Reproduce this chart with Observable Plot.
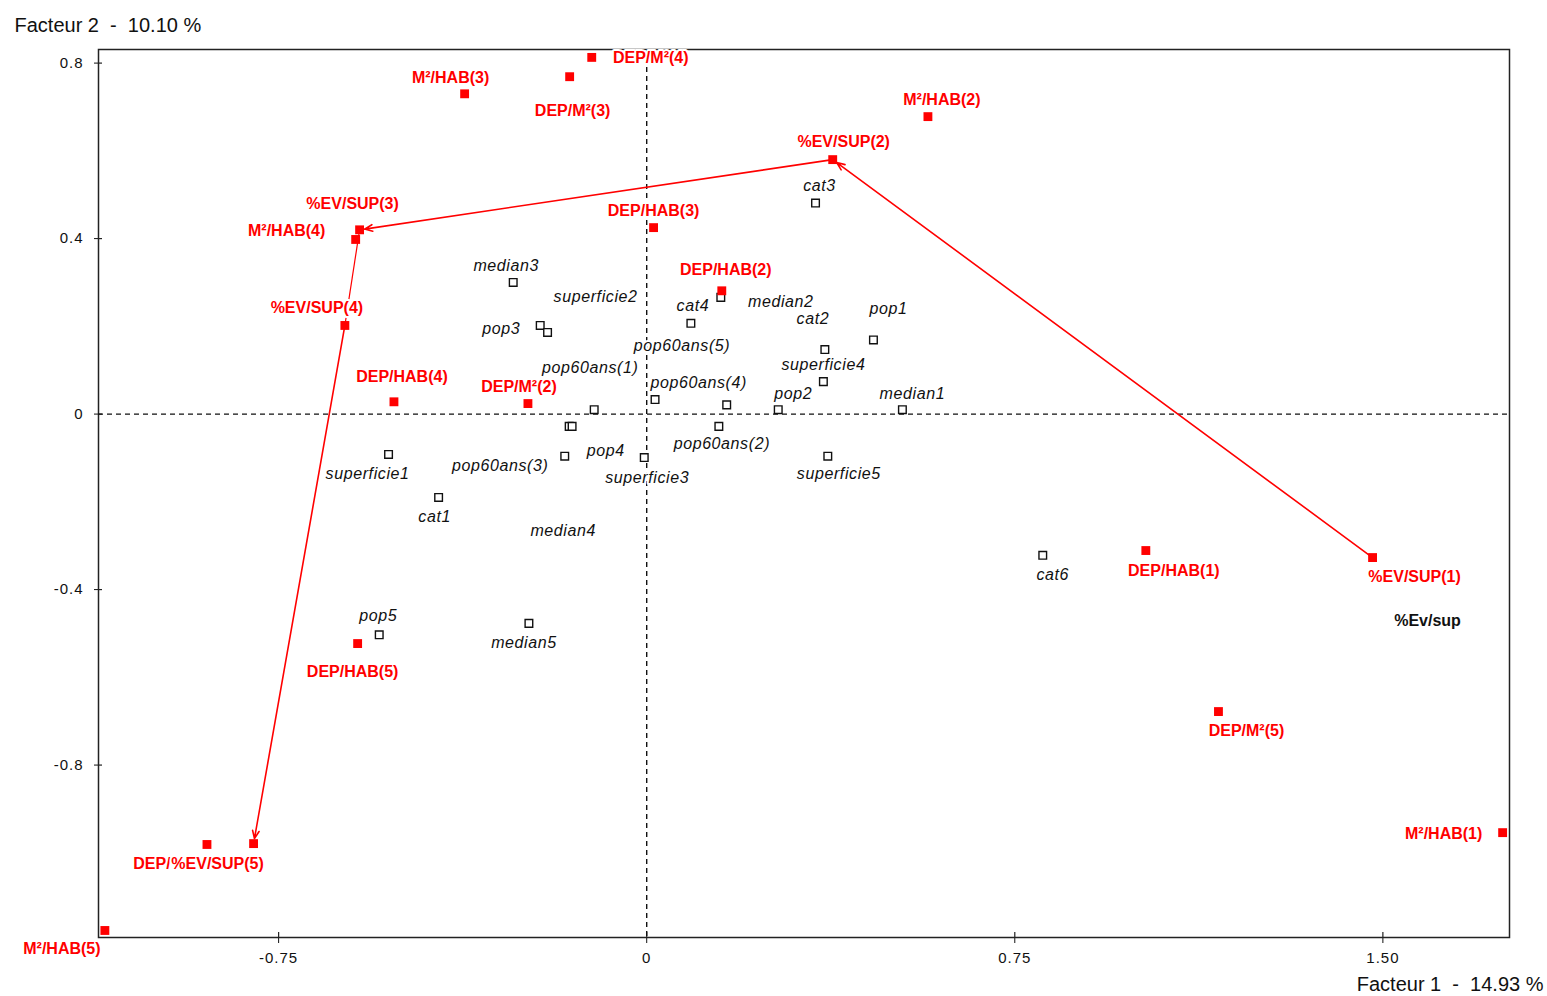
<!DOCTYPE html>
<html><head><meta charset="utf-8">
<script src="https://cdn.jsdelivr.net/npm/d3@7"></script>
<script src="https://cdn.jsdelivr.net/npm/@observablehq/plot@0.6"></script>
<style>
html,body{margin:0;padding:0;background:#fff;}
#chart svg{display:block;background:#fff;}
svg text{white-space:pre;}
g[font-style="italic"] text{letter-spacing:0.6px;}
g[aria-label^="x-axis"] text, g[aria-label^="y-axis"] text{letter-spacing:1px;}
</style></head><body><div id="chart"></div>
<script>
// ---- Active modalities (red filled squares) ----
const redNames = ["DEP/M²(4)","M²/HAB(3)","DEP/M²(3)","M²/HAB(2)","%EV/SUP(2)","DEP/HAB(3)","%EV/SUP(3)","M²/HAB(4)","DEP/HAB(2)","%EV/SUP(4)","DEP/HAB(4)","DEP/M²(2)","DEP/HAB(1)","%EV/SUP(1)","DEP/HAB(5)","DEP/M²(5)","M²/HAB(1)","M²/HAB(5)","DEP/","%EV/SUP(5)"];
const redX = [-0.112,-0.371,-0.157,0.573,0.379,0.014,-0.585,-0.593,0.153,-0.615,-0.515,-0.242,1.017,1.479,-0.589,1.165,1.744,-1.104,-0.896,-0.801];
const redY = [0.813,0.730,0.769,0.678,0.580,0.425,0.420,0.398,0.281,0.202,0.028,0.024,-0.311,-0.327,-0.523,-0.678,-0.954,-1.177,-0.981,-0.979];

// ---- Supplementary modalities (black open squares) ----
const suppNames = ["cat3","median3","pop3","superficie2","cat4","median2","pop1","cat2","superficie4","pop60ans(1)","pop60ans(5)","pop60ans(4)","pop2","median1","median4","pop60ans(3)","pop4","superficie3","pop60ans(2)","superficie5","superficie1","cat1","cat6","pop5","median5"];
const suppX = [0.344,-0.272,-0.217,-0.202,0.090,0.151,0.462,0.363,0.360,-0.107,0.017,0.163,0.268,0.521,-0.158,-0.152,-0.167,-0.005,0.147,0.369,-0.526,-0.424,0.807,-0.545,-0.240];
const suppY = [0.481,0.300,0.202,0.186,0.207,0.266,0.169,0.147,0.074,0.010,0.033,0.021,0.010,0.010,-0.028,-0.028,-0.096,-0.099,-0.028,-0.096,-0.092,-0.190,-0.322,-0.503,-0.477];

// ---- Trajectory of %EV/SUP ----
const trajectory = ["%EV/SUP(1)","%EV/SUP(2)","%EV/SUP(3)","%EV/SUP(4)","%EV/SUP(5)"];
const trajectoryTitle = "%Ev/sup";

// ---- Axes ----
const xTickValues = [-0.75, 0, 0.75, 1.5];
const xTickLabels = ["-0.75","0","0.75","1.50"];
const yTickValues = [0.8, 0.4, 0, -0.4, -0.8];
const yTickLabels = ["0.8","0.4","0","-0.4","-0.8"];
const xTitle = "Facteur 1  -  14.93 %";
const yTitle = "Facteur 2  -  10.10 %";

// ---- Layout (pixels) ----
const W = 1547, H = 996, mL = 98, mR = 38, mT = 49, mB = 59;
const xDomain = [-1.117, 1.758], yDomain = [-1.193, 0.831];
const kx = (W - mL - mR) / (xDomain[1] - xDomain[0]);
const ky = (H - mT - mB) / (yDomain[1] - yDomain[0]);
const redLabelOffset = {
  "DEP/M²(4)":[59,0],"M²/HAB(3)":[-14,-16],"DEP/M²(3)":[3,34],"M²/HAB(2)":[14,-17],
  "%EV/SUP(2)":[11,-18],"DEP/HAB(3)":[0,-17],"%EV/SUP(3)":[-7,-26],"M²/HAB(4)":[-69,-9],
  "DEP/HAB(2)":[4,-21],"%EV/SUP(4)":[-28,-18],"DEP/HAB(4)":[8,-25],"DEP/M²(2)":[-9,-17],
  "DEP/HAB(1)":[28,20],"%EV/SUP(1)":[42,19],"DEP/HAB(5)":[-5,28],"DEP/M²(5)":[28,19],
  "M²/HAB(1)":[-59,1],"M²/HAB(5)":[-43,18],"DEP/":[-55,19],"%EV/SUP(5)":[-36,20]
};
const suppLabelOffset = {
  "cat3":[4,-17],"median3":[-7,-17],"pop3":[-39,3],"superficie2":[48,-36],"cat4":[2,-17],
  "median2":[60,4],"pop1":[15,-31],"cat2":[-12,-31],"superficie4":[0,-17],"pop60ans(1)":[-4,-42],
  "pop60ans(5)":[27,-54],"pop60ans(4)":[-28,-22],"pop2":[15,-16],"median1":[10,-16],
  "median4":[-6,105],"pop60ans(3)":[-72,40],"pop4":[41,-5],"superficie3":[3,20],
  "pop60ans(2)":[3,18],"superficie5":[11,18],"superficie1":[-21,19],"cat1":[-4,19],
  "cat6":[10,20],"pop5":[-1,-19],"median5":[-5,20]
};

const red = redNames.map((n,i)=>({name:n, x:redX[i], y:redY[i],
  lx: redX[i] + redLabelOffset[n][0]/kx, ly: redY[i] - redLabelOffset[n][1]/ky}));
const supp = suppNames.map((n,i)=>({name:n, x:suppX[i], y:suppY[i],
  lx: suppX[i] + suppLabelOffset[n][0]/kx, ly: suppY[i] - suppLabelOffset[n][1]/ky}));

const byName = new Map(red.map(d=>[d.name,d]));
const traj = trajectory.map(n=>byName.get(n));
const segs = d3.pairs(traj).map(([a,b],i)=>({x1:a.x,y1:a.y,x2:b.x,y2:b.y,head:i!==2}));

const font = "'Liberation Sans', Arial, Helvetica, sans-serif";
const chart = Plot.plot({
  width: W, height: H,
  marginLeft: mL, marginRight: mR, marginTop: mT, marginBottom: mB,
  style: {fontFamily: font, fontSize: "15px", color: "#111", background: "#fff"},
  x: {domain: xDomain, ticks: xTickValues, tickFormat: d => xTickLabels[xTickValues.indexOf(d)], tickSize: 6, tickPadding: 9, label: null},
  y: {domain: yDomain, ticks: yTickValues, tickFormat: d => yTickLabels[yTickValues.indexOf(d)], tickSize: 4, tickPadding: 11, label: null},
  marks: [
    Plot.frame({stroke: "#222", strokeWidth: 1.5}),
    Plot.tickX(xTickValues, {x: d=>d, insetTop: H - mT - mB - 5, stroke: "#222", strokeWidth: 1.2}),
    Plot.tickY(yTickValues, {y: d=>d, insetRight: W - mL - mR - 4, stroke: "#222", strokeWidth: 1.2}),
    Plot.ruleX([0], {stroke: "#111", strokeWidth: 1.4, strokeDasharray: "5,4"}),
    Plot.ruleY([0], {stroke: "#111", strokeWidth: 1.4, strokeDasharray: "5,4"}),
    Plot.link(segs.filter(d=>!d.head), {x1:"x1",y1:"y1",x2:"x2",y2:"y2", stroke:"#f00", strokeWidth:1.2}),
    Plot.arrow(segs.filter(d=>d.head), {x1:"x1",y1:"y1",x2:"x2",y2:"y2", stroke:"#f00", strokeWidth:1.6, headLength:8, headAngle:45, insetEnd:5}),
    Plot.dot(supp, {x:"x", y:"y", symbol:"square", r:4.3, stroke:"#111", strokeWidth:1.4, fill:"white"}),
    Plot.dot(red, {x:"x", y:"y", symbol:"square", r:5, fill:"#f00", stroke:"none"}),
    Plot.text(supp, {x:"lx", y:"ly", text:"name", fontStyle:"italic", fontSize:16, fill:"#111", stroke:"white", strokeWidth:4}),
    Plot.text(red, {x:"lx", y:"ly", text:"name", fontWeight:"bold", fontSize:16, fill:"#f00", stroke:"white", strokeWidth:4}),
    Plot.text([trajectoryTitle], {frameAnchor:"top-right", dx:-82, dy:571, textAnchor:"middle", lineAnchor:"middle", fontWeight:"bold", fontSize:16, fill:"#111"}),
    Plot.text([yTitle], {frameAnchor:"top-left", dx:-84, dy:-24, textAnchor:"start", lineAnchor:"middle", fontSize:20, fill:"#111"}),
    Plot.text([xTitle], {frameAnchor:"bottom-right", dx:34, dy:47, textAnchor:"end", lineAnchor:"middle", fontSize:20, fill:"#111"})
  ]
});
document.getElementById("chart").appendChild(chart);
</script></body></html>
